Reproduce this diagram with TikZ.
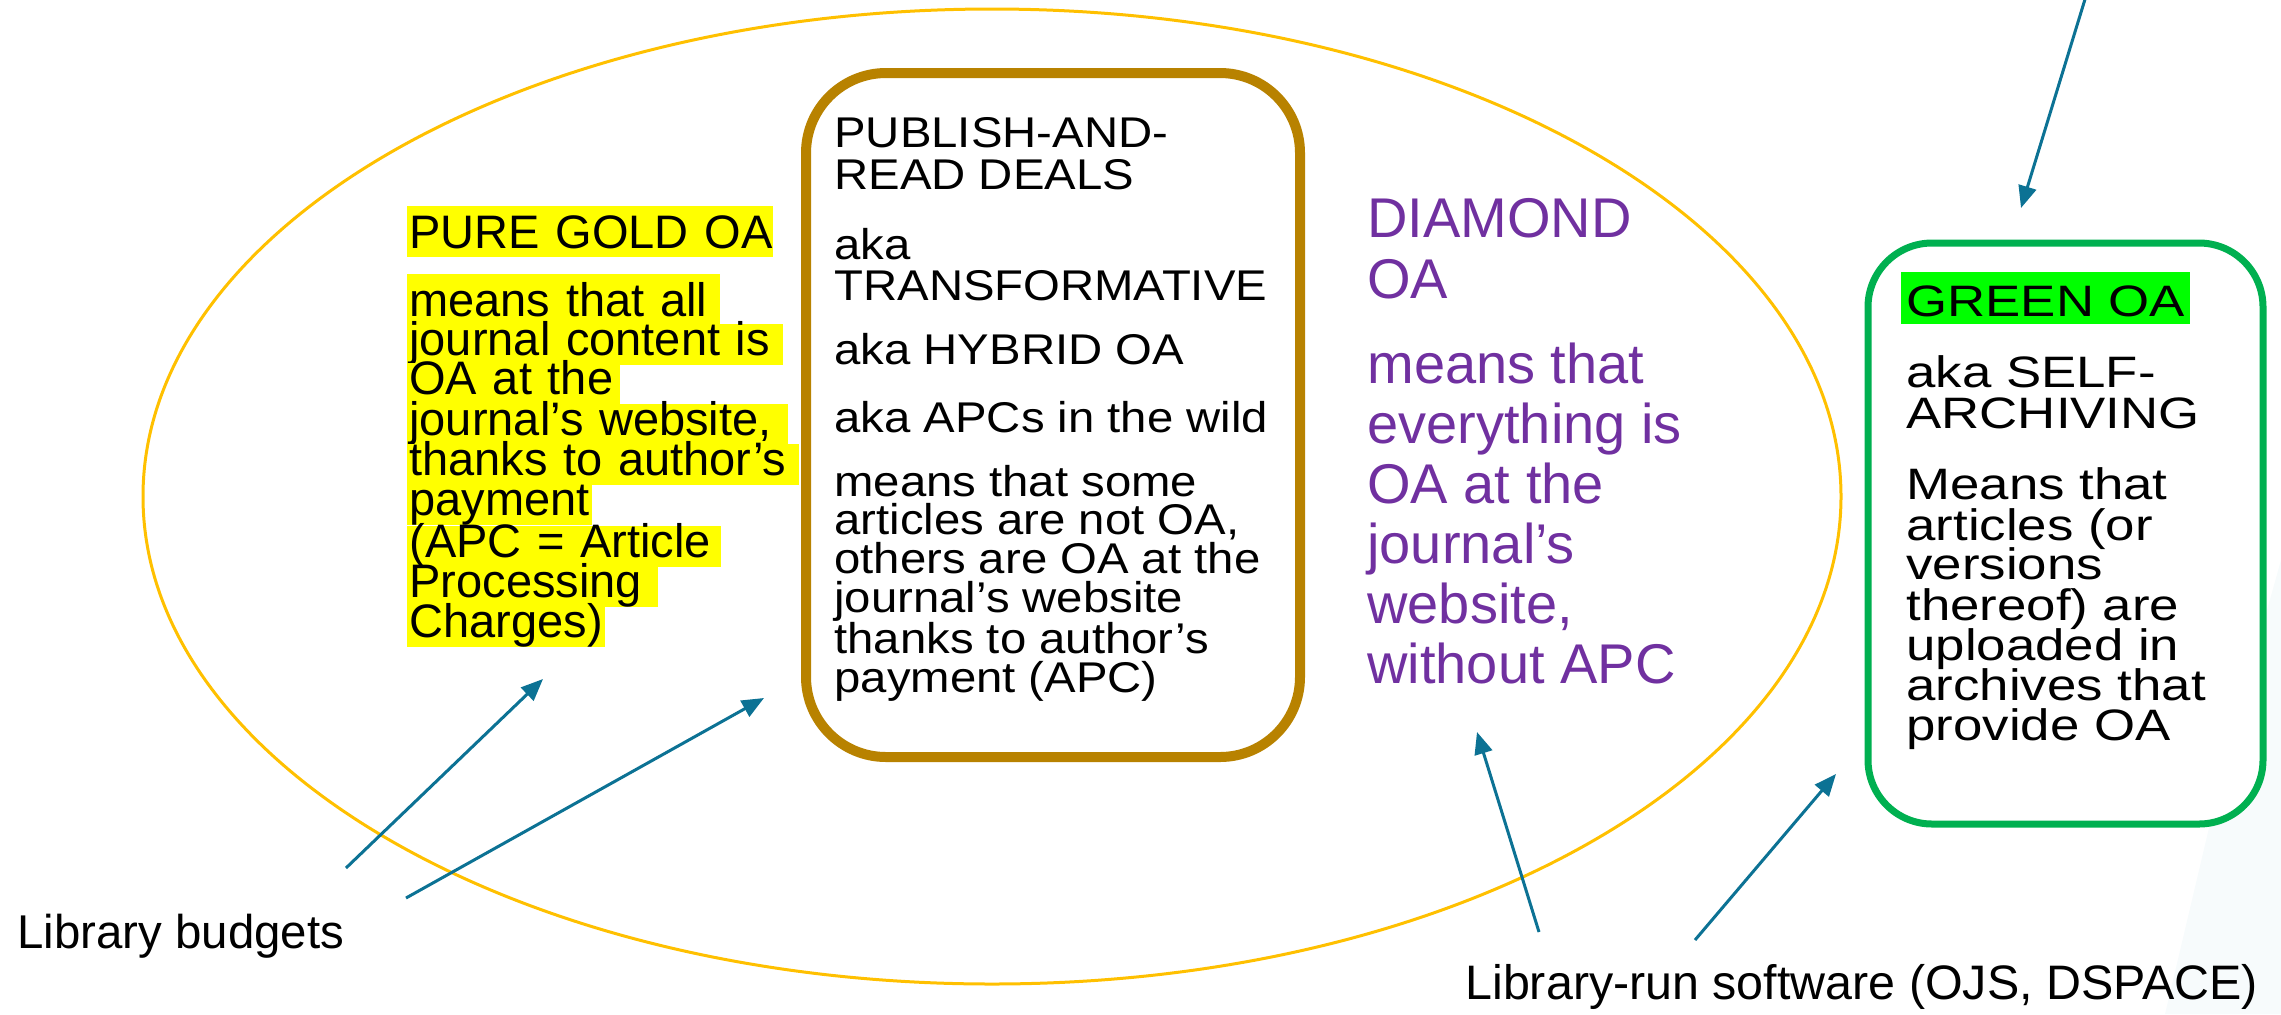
\documentclass[tikz,border=0pt]{standalone}
\usepackage{fontspec}
\setmainfont{Liberation Sans}
\newfontfamily\pubfont[FakeStretch=1.1]{Liberation Sans}
\newfontfamily\grnfont[FakeStretch=1.2]{Liberation Sans}
\usetikzlibrary{arrows.meta}
\definecolor{ellcol}{RGB}{255,192,0}
\definecolor{boxbrown}{RGB}{184,130,0}
\definecolor{boxgreen}{RGB}{0,176,80}
\definecolor{hlyellow}{RGB}{255,255,0}
\definecolor{hlgreen}{RGB}{0,255,0}
\definecolor{diapurple}{RGB}{112,48,160}
\definecolor{arrowteal}{RGB}{12,114,148}
\definecolor{faintbg}{RGB}{247,251,252}
\begin{document}
\begin{tikzpicture}[x=0.5pt,y=-0.5pt,
  txt/.style={anchor=base west,inner sep=0pt},
  goldline/.style={txt,fill=hlyellow,align=left,text height=15.5pt,text depth=5pt,
    font=\fontsize{23.5}{20}\selectfont},
  publine/.style={txt,font=\pubfont\fontsize{21.5}{20}\selectfont},
  dialine/.style={txt,text=diapurple,font=\fontsize{28}{30}\selectfont},
  grnline/.style={txt,font=\grnfont\fontsize{22}{20}\selectfont},
  lbl/.style={txt,font=\fontsize{23.7}{26}\selectfont},
  arr/.style={draw=arrowteal,line width=1.5pt,-{Triangle[length=11pt,width=9pt]}},
  ovalline/.style={draw=ellcol,line width=1.5pt},
  brownbox/.style={draw=boxbrown,line width=5pt,rounded corners=40pt},
  greenbox/.style={draw=boxgreen,line width=3.5pt,rounded corners=32pt}
]
\useasboundingbox (0,0) rectangle (2281,1014);

% faint background band
\fill[faintbg] (2281,560) -- (2225,760) -- (2165,1014) -- (2281,1014) -- cycle;

% big oval
\draw[ovalline] (992,496.5) ellipse [x radius=849, y radius=487.5];

% boxes
\draw[brownbox,fill=white] (806,73) rectangle (1300,757);
\draw[greenbox,fill=white] (1868,243) rectangle (2263,824);

% pure gold OA
\node[goldline,text width=183pt,text height=21pt,text depth=4.5pt] (pg0) at (407,248) {\hspace*{1pt}PURE GOLD OA};
\node[goldline,text width=156.5pt,text height=21pt] (pg1) at (407,316) {\hspace*{1pt}means that all};
\node[goldline,text width=188pt] (pg2) at (407,355) {\hspace*{1pt}journal content is};
\node[goldline,text width=106.5pt] (pg3) at (407,394) {\hspace*{1pt}OA at the};
\node[goldline,text width=190.5pt] (pg4) at (407,435) {\hspace*{1pt}journal’s website,};
\node[goldline,text width=196pt] (pg5) at (407,475) {\hspace*{1pt}thanks to author’s};
\node[goldline,text width=92.5pt] (pg6) at (407,515) {\hspace*{1pt}payment};
\node[goldline,text width=157pt] (pg7) at (407,557) {\hspace*{1pt}(APC = Article};
\node[goldline,text width=125.5pt] (pg8) at (407,597) {\hspace*{1pt}Processing};
\node[goldline,text width=99pt] (pg9) at (407,637) {\hspace*{1pt}Charges)};

% publish-and-read
\node[publine] (pb1) at (834,147) {PUBLISH-AND-};
\node[publine] (pb2) at (834,189) {READ DEALS};
\node[publine] (pb3) at (834,259) {aka};
\node[publine] (pb4) at (834,300) {TRANSFORMATIVE};
\node[publine] (pb5) at (834,364) {aka HYBRID OA};
\node[publine] (pb6) at (834,432) {aka APCs in the wild};
\node[publine] (pb7) at (834,496) {means that some};
\node[publine] (pb8) at (834,534) {articles are not OA,};
\node[publine] (pb9) at (834,573) {others are OA at the};
\node[publine] (pb10) at (834,612) {journal’s website};
\node[publine] (pb11) at (834,653) {thanks to author’s};
\node[publine] (pb12) at (834,692) {payment (APC)};

% diamond
\node[dialine] (dm1) at (1367,237) {DIAMOND};
\node[dialine] (dm2) at (1367,298) {OA};
\node[dialine] (dm3) at (1367,383) {means that};
\node[dialine] (dm4) at (1367,443) {everything is};
\node[dialine] (dm5) at (1367,503) {OA at the};
\node[dialine] (dm6) at (1367,563) {journal’s};
\node[dialine] (dm7) at (1367,623) {website,};
\node[dialine] (dm8) at (1367,683) {without APC};

% green
\node[grnline,fill=hlgreen,text height=22pt,text depth=4pt,inner xsep=2.5pt] (gr1) at (1901,316) {GREEN OA};
\node[grnline] (gr2) at (1906,387) {aka SELF-};
\node[grnline] (gr3) at (1906,428) {ARCHIVING};
\node[grnline] (gr4) at (1906,499) {Means that};
\node[grnline] (gr5) at (1906,540) {articles (or};
\node[grnline] (gr6) at (1906,579) {versions};
\node[grnline] (gr7) at (1906,620) {thereof) are};
\node[grnline] (gr8) at (1906,660) {uploaded in};
\node[grnline] (gr9) at (1906,700) {archives that};
\node[grnline] (gr10) at (1906,740) {provide OA};

% labels
\node[lbl] (budg) at (17,948) {Library budgets};
\node[lbl,font=\fontsize{24.2}{26}\selectfont] (soft) at (1465,999) {Library-run software (OJS, DSPACE)};

% arrow ends
\coordinate (a1s) at (346,868);
\coordinate (a1t) at (543,679);
\coordinate (a2s) at (406,898);
\coordinate (a2t) at (764,698);
\coordinate (a3s) at (1539,932);
\coordinate (a3t) at (1477,732);
\coordinate (a4s) at (1695,940);
\coordinate (a4t) at (1836,774);
\coordinate (a5s) at (2086,-4);
\coordinate (a5t) at (2021,208);

\draw[arr] (a1s) -- (a1t);
\draw[arr] (a2s) -- (a2t);
\draw[arr] (a3s) -- (a3t);
\draw[arr] (a4s) -- (a4t);
\draw[arr] (a5s) -- (a5t);
\end{tikzpicture}
\end{document}
